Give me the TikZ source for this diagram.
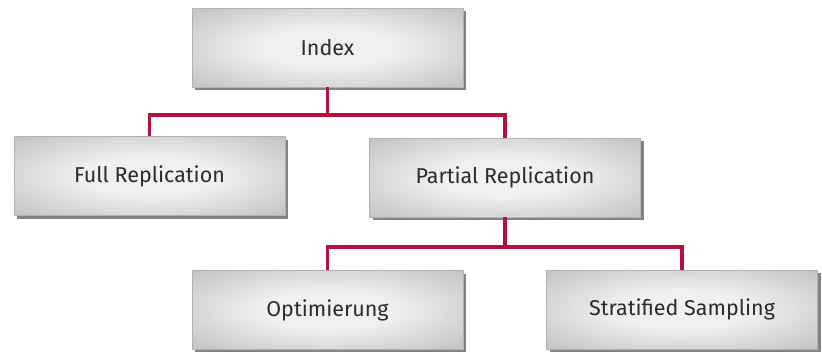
\documentclass[tikz,border=0pt]{standalone}
\usepackage{fontspec}
\setmainfont{Fira Sans}
\usepackage{tikz}
\usetikzlibrary{positioning, calc, shadows}
\definecolor{boxdark}{HTML}{B1B2B5}
\definecolor{boxlight}{HTML}{F0F0F1}
\definecolor{linkred}{HTML}{B7103F}
\definecolor{textgray}{HTML}{2B2B2B}
\pgfdeclareradialshading{boxglow}{\pgfpoint{0bp}{0bp}}{color(0bp)=(boxlight); color(12bp)=(boxlight); color(44bp)=(boxdark); color(50bp)=(boxdark)}

\begin{document}
\begin{tikzpicture}[
    x=1pt, y=-1pt,
    method/.style={rectangle, minimum width=271pt, minimum height=79pt, shading=boxglow,
        draw=black!30, line width=0.8pt, text=textgray, font=\fontsize{21.5}{26}\selectfont,
        drop shadow={shadow xshift=3pt, shadow yshift=-3pt, opacity=0.65, fill=black!75}},
    link/.style={draw=linkred, line width=3.2pt},
]
\useasboundingbox (0,0) rectangle (822,351);

% Branch points
\coordinate (top) at (327.5,115);
\coordinate (low) at (505,247);

% Boxes
\node[method] (index) at (327.5,47.5) {Index};
\node[method] (full) at (149.5,176) {Full Replication};
\node[method] (partial) at (505,177.5) {Partial Replication};
\node[method] (optim) at (327.5,310) {Optimierung};
\node[method] (strat) at (682,309.5) {Stratified Sampling};

% Connectors
\draw[link] (index.south) -- (top) -| (full.north);
\draw[link] (top) -| (partial.north);
\draw[link] (partial.south) -- (low) -| (optim.north);
\draw[link] (low) -| (strat.north);

\end{tikzpicture}
\end{document}
